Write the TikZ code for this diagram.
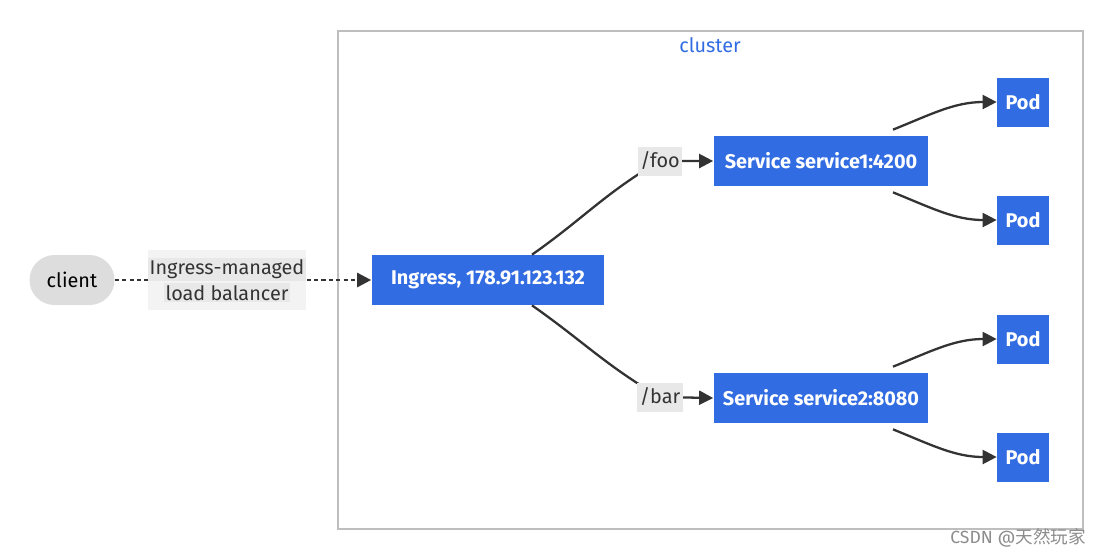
\documentclass[tikz,border=0pt]{standalone}
\usepackage{fontspec}
\setmainfont{Fira Sans}
\newfontfamily\cjkfont{Noto Sans CJK SC}
\usepackage{tikz}
\usetikzlibrary{positioning, arrows.meta, calc}
\definecolor{nodeblue}{RGB}{50,108,226}
\definecolor{clustergray}{RGB}{190,190,190}
\definecolor{clientgray}{RGB}{221,221,221}
\definecolor{edgegray}{RGB}{51,51,51}
\definecolor{lblgray}{RGB}{232,232,232}
\definecolor{lblpale}{RGB}{243,243,243}
\newcommand{\lblline}[1]{{\setlength{\fboxsep}{1pt}\colorbox{lblgray}{#1}}}

\begin{document}
\begin{tikzpicture}[x=0.02cm, y=-0.02cm, font=\fontsize{11.3}{13.5}\selectfont]
			\useasboundingbox (0,0) rectangle (1102,556);
			\tikzstyle{box}=[rectangle, fill=nodeblue, text=white, font=\fontsize{11.3}{13.5}\selectfont\bfseries, minimum height=1cm, inner sep=0pt]
			\tikzstyle{pod}=[box, minimum width=1.04cm, minimum height=0.98cm]
			\tikzstyle{elabel}=[fill=lblgray, text=black!80, inner sep=1.5pt, minimum height=0.58cm]
			\tikzstyle{edge}=[draw=edgegray, line width=1.3pt, -{Triangle[length=8pt, width=8pt]}]
			%%
			\draw[clustergray, line width=1.1pt] (338,31) rectangle (1083,529);
			\node (cl) at (710,45) [text=nodeblue] {cluster};
			%%
			\node (client) at (72,280) [rectangle, rounded corners=0.5cm, fill=clientgray, minimum width=1.7cm, minimum height=1cm] {client};
			\node (ing) at (488,280) [box, minimum width=4.66cm] {Ingress, 178.91.123.132};
			\node (svc1) at (821,161) [box, minimum width=4.3cm] {Service service1:4200};
			\node (svc2) at (821,398) [box, minimum width=4.3cm] {Service service2:8080};
			\node (pod1) at (1023,102) [pod] {Pod};
			\node (pod2) at (1023,220) [pod] {Pod};
			\node (pod3) at (1023,339) [pod] {Pod};
			\node (pod4) at (1023,457) [pod] {Pod};
			%%
			\coordinate (lb) at (227,280);
			\coordinate (foo) at (660,161);
			\coordinate (bar) at (660,397);
			
			\draw [edge, dash pattern=on 2.4pt off 1.8pt, line width=1.5pt] (client.east) -- (lb) -- (ing.west);
			\draw [edge] ([xshift=0.88cm]ing.north) to[out=35, in=210] (foo) -- (svc1.west);
			\draw [edge] ([xshift=0.88cm]ing.south) to[out=-35, in=150] (bar) -- (svc2.west);
			
			\draw [edge] ([xshift=1.44cm, yshift=0.12cm]svc1.north) to[out=22, in=180] (pod1.west);
			\draw [edge] ([xshift=1.44cm, yshift=-0.12cm]svc1.south) to[out=-22, in=180] (pod2.west);
			\draw [edge] ([xshift=1.44cm, yshift=0.12cm]svc2.north) to[out=22, in=180] (pod3.west);
			\draw [edge] ([xshift=1.44cm, yshift=-0.12cm]svc2.south) to[out=-22, in=180] (pod4.west);
			%%
			\node (lblb) at (lb) [fill=lblpale, text=black!80, align=center, minimum width=3.12cm, minimum height=1.2cm, inner sep=0pt] {\lblline{Ingress-managed}\\[1pt]\lblline{load balancer}};
			\node (lfoo) at (foo) [elabel] {/foo};
			\node (lbar) at (bar) [elabel] {/bar};
			
			\node (mark) at (1018,538) [text=black!45, font=\fontsize{10}{12}\selectfont] {CSDN @{\cjkfont 天然玩家}};
			\end{tikzpicture}
\end{document}
